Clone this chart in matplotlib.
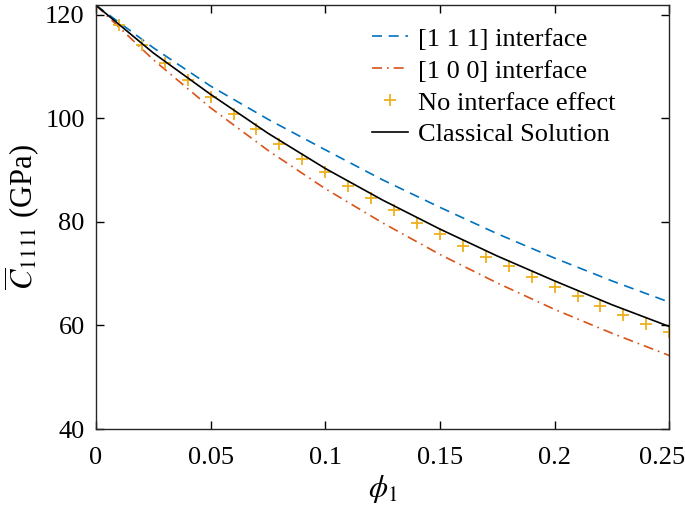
import numpy as np
import matplotlib
matplotlib.use("Agg")
import matplotlib.pyplot as plt
import matplotlib.transforms as mtransforms

plt.rcParams['font.family'] = ['Liberation Serif', 'DejaVu Serif']
plt.rcParams['mathtext.fontset'] = 'stix'

# curves read at steps of 0.025
phi_line = [0, 0.025, 0.05, 0.075, 0.1, 0.125, 0.15, 0.175, 0.2, 0.225, 0.25]
c111 = [121.8, 113.6, 106.2, 99.8, 93.9, 88.1, 82.8, 77.7, 73.0, 68.6, 64.5]
c100 = [121.8, 111.3, 102.0, 93.8, 86.4, 79.8, 73.7, 68.2, 63.1, 58.5, 54.2]
classical = [121.8, 112.6, 104.6, 97.1, 90.3, 84.2, 78.6, 73.4, 68.6, 64.0, 59.8]

# markers every 0.01
phi_pts = [0, 0.01, 0.02, 0.03, 0.04, 0.05, 0.06, 0.07, 0.08, 0.09, 0.10, 0.11, 0.12,
           0.13, 0.14, 0.15, 0.16, 0.17, 0.18, 0.19, 0.20, 0.21, 0.22, 0.23, 0.24, 0.25]
no_iface = [121.8, 117.9, 114.2, 110.7, 107.3, 104.0, 100.9, 98.0, 95.1, 92.2, 89.6,
            87.0, 84.6, 82.2, 79.8, 77.7, 75.4, 73.3, 71.4, 69.3, 67.5, 65.6, 63.8,
            62.0, 60.3, 58.7]

x_ticks = [0, 0.05, 0.1, 0.15, 0.2, 0.25]
x_labels = ['0', '0.05', '0.1', '0.15', '0.2', '0.25']
y_ticks = [40, 60, 80, 100, 120]

fig = plt.figure(figsize=(6.85, 5.22), dpi=100)
ax = fig.add_axes([0.140, 0.178, 0.837, 0.812])

ax.plot(phi_line, c111, '--', color='#0072BD', lw=1.2, dashes=(6, 4), label='[1 1 1] interface')
ax.plot(phi_line, c100, '-.', color='#D95319', lw=1.2, dashes=(6, 3, 1, 3), label='[1 0 0] interface')
ax.plot(phi_pts, no_iface, '+', color='#EDB120', ms=8, mew=1.3, label='No interface effect')
ax.plot(phi_line, classical, '-', color='black', lw=1.2, label='Classical Solution')

ax.set_xlim(0, 0.25)
ax.set_ylim(40, 121.8)
ax.set_xticks(x_ticks)
ax.set_xticklabels(x_labels)
ax.set_yticks(y_ticks)
ax.tick_params(direction='in', top=True, right=True, length=6, width=1,
               labelsize=19, pad=8, colors='black')
ax.tick_params(axis='x', pad=13)
for s in ax.spines.values():
    s.set_linewidth(1)
    s.set_color('#262626')

# keep the last x label inside the figure
last = ax.get_xticklabels()[-1]
last.set_transform(last.get_transform() +
                   mtransforms.ScaledTranslation(-7 / 100, 0, fig.dpi_scale_trans))

ax.set_xlabel(r'$\phi_1$', fontsize=22, labelpad=3)
ax.set_ylabel(r'$\overline{C}_{1111}$ (GPa)', fontsize=22, labelpad=2)

ax.legend(loc='upper left', bbox_to_anchor=(0.482, 0.948), frameon=False,
          fontsize=19, handlelength=1.35, handletextpad=0.4, labelspacing=0.32,
          borderpad=0, borderaxespad=0)

fig.savefig('out.png', dpi=100)
